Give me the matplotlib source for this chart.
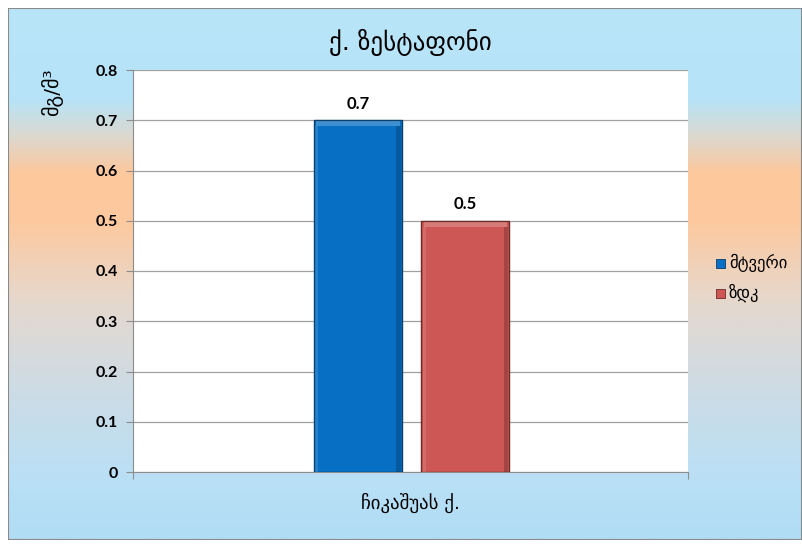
import matplotlib
matplotlib.use("Agg")
import matplotlib.pyplot as plt
import numpy as np
from matplotlib.colors import LinearSegmentedColormap
from matplotlib.patches import Rectangle

title = "ქ. ზესტაფონი"
ylabel = "მგ/მ³"
categories = ["ჩიკაშუას ქ."]
series_names = ["მტვერი", "ზდკ"]
series_values = [[0.7], [0.5]]
series_colors = ["#0770c4", "#cd5754"]
edge_colors = ["#0a3f6e", "#6e2a28"]
yticks = [0, 0.1, 0.2, 0.3, 0.4, 0.5, 0.6, 0.7, 0.8]

FONT = ["Lato", "DejaVu Sans"]
GEO = ["DejaVu Sans"]

W, H = 802, 546
fig = plt.figure(figsize=(W / 100, H / 100), dpi=100)
fig.patch.set_facecolor("white")

# background gradient axes
bg = fig.add_axes([8 / W, 6 / H, (W - 8) / W, (H - 6 - 8) / H])
bg.set_axis_off()
stops = [(0.0, "#b9e5f9"), (0.17, "#b6e3f8"), (0.24, "#dcd8cf"), (0.31, "#fdc89c"),
         (0.40, "#fdc99e"), (0.55, "#e6d8cd"), (0.70, "#cfdbe3"), (0.90, "#b8e0f7"),
         (1.0, "#b0dcf4")]
cmap = LinearSegmentedColormap.from_list("bgc", stops)
grad = np.linspace(0, 1, 512).reshape(-1, 1)
bg.imshow(grad, aspect="auto", cmap=cmap, extent=[0, 1, 0, 1], origin="upper")
bg.set_xlim(0, 1)
bg.set_ylim(0, 1)
bg.add_patch(Rectangle((0, 0), 1, 1, transform=bg.transAxes, fill=False,
                       edgecolor="#8a8a8a", lw=1.5))

# plot area
L, R, T, B = 133, 688, 70, 472
ax = fig.add_axes([L / W, 1 - B / H, (R - L) / W, (B - T) / H])
ax.set_facecolor("white")
ax.set_ylim(0, 0.8)
ax.set_xlim(-0.5, 0.5)
ax.set_yticks(yticks)
ax.set_yticklabels([f"{v:g}" for v in yticks], fontfamily=FONT, fontweight="bold", fontsize=11.5)
ax.yaxis.grid(True, color="#a0a0a0", lw=0.9)
ax.set_axisbelow(True)
for s in ["top", "right"]:
    ax.spines[s].set_visible(False)
ax.spines["left"].set_color("#8c8c8c")
ax.spines["bottom"].set_color("#8c8c8c")
ax.tick_params(axis="y", length=5, color="#8c8c8c", pad=6)
ax.tick_params(axis="x", length=5, color="#8c8c8c")
ax.set_xticks([-0.5, 0.5])
ax.set_xticklabels(["", ""])

x = np.arange(len(categories))
bw = 0.1586
offsets = [-0.0946, 0.099]
for i, (name, vals) in enumerate(zip(series_names, series_values)):
    bars = ax.bar(x + offsets[i], vals, width=bw, color=series_colors[i],
                  edgecolor=edge_colors[i], lw=1.0, label=name, zorder=3)
    for b, v in zip(bars, vals):
        ax.add_patch(Rectangle((b.get_x() + 0.004, v - 0.012), b.get_width() - 0.008, 0.010,
                               color="white", alpha=0.22, lw=0, zorder=4))
        ax.add_patch(Rectangle((b.get_x() + b.get_width() - 0.010, 0), 0.008, v - 0.012,
                               color="black", alpha=0.2, lw=0, zorder=4))
        ax.add_patch(Rectangle((b.get_x() + 0.002, 0), 0.006, v - 0.012,
                               color="white", alpha=0.12, lw=0, zorder=4))
        ax.text(b.get_x() + b.get_width() / 2, v + 0.017, f"{v:g}", ha="center", va="bottom",
                fontfamily=FONT, fontweight="bold", fontsize=12)

fig.text((L + R) / 2 / W, 1 - 503 / H, categories[0], ha="center", va="center",
         fontfamily=GEO, fontsize=13.5)
fig.text(410 / W, 1 - 42 / H, title, ha="center", va="center", fontfamily=GEO, fontsize=18)
fig.text(52 / W, 1 - 92 / H, ylabel, ha="center", va="center", rotation=90,
         fontfamily=GEO, fontsize=14.5)

# legend
for i, (name, y) in enumerate(zip(series_names, [263, 293])):
    fig.patches.append(Rectangle((716 / W, 1 - (y + 5) / H), 9 / W, 9 / H,
                                 transform=fig.transFigure, facecolor=series_colors[i],
                                 edgecolor=edge_colors[i], lw=0.6))
    fig.text(729 / W, 1 - y / H, name, ha="left", va="center", fontfamily=GEO, fontsize=12)

fig.savefig("out.png", dpi=100)
